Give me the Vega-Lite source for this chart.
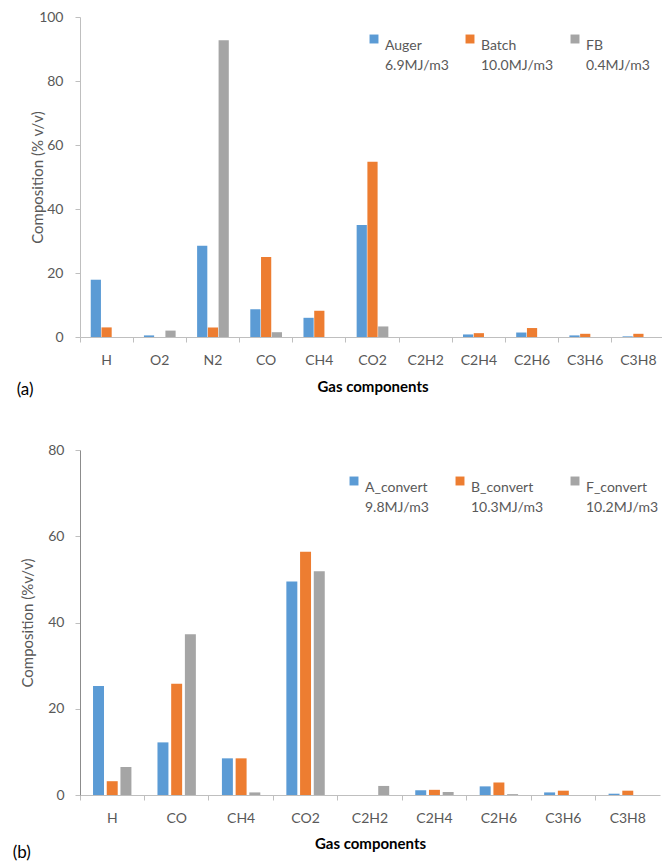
{
  "$schema": "https://vega.github.io/schema/vega-lite/v6.json",
  "background": "white",
  "padding": {"left": 12, "top": 10, "right": 0, "bottom": 0},
  "config": {
    "font": "Lato",
    "view": {"stroke": null},
    "axis": {"labelColor": "#595959", "titleColor": "#595959", "labelFontSize": 14, "titleFontSize": 15, "titleFontWeight": "normal", "domainColor": "#bfbfbf", "tickColor": "#bfbfbf", "grid": false, "labelFont": "Lato", "titleFont": "Lato"},
    "legend": {"labelColor": "#595959", "labelFontSize": 14, "labelFont": "Lato"},
    "style": {"guide-label": {"lineHeight": 20}}
  },
  "resolve": {"scale": {"color": "independent", "xOffset": "independent"}, "legend": {"color": "independent"}},
  "columns": 1,
  "align": "none",
  "spacing": 45,
  "datasets": {
    "a": [
      {"gas": "H", "series": "Auger", "value": 17.9},
      {"gas": "H", "series": "Batch", "value": 3.0},
      {"gas": "H", "series": "FB", "value": 0},
      {"gas": "O2", "series": "Auger", "value": 0.5},
      {"gas": "O2", "series": "Batch", "value": 0},
      {"gas": "O2", "series": "FB", "value": 2.0},
      {"gas": "N2", "series": "Auger", "value": 28.5},
      {"gas": "N2", "series": "Batch", "value": 3.0},
      {"gas": "N2", "series": "FB", "value": 92.7},
      {"gas": "CO", "series": "Auger", "value": 8.7},
      {"gas": "CO", "series": "Batch", "value": 25.0},
      {"gas": "CO", "series": "FB", "value": 1.5},
      {"gas": "CH4", "series": "Auger", "value": 6.0},
      {"gas": "CH4", "series": "Batch", "value": 8.2},
      {"gas": "CH4", "series": "FB", "value": 0},
      {"gas": "CO2", "series": "Auger", "value": 35.0},
      {"gas": "CO2", "series": "Batch", "value": 54.8},
      {"gas": "CO2", "series": "FB", "value": 3.3},
      {"gas": "C2H2", "series": "Auger", "value": 0},
      {"gas": "C2H2", "series": "Batch", "value": 0},
      {"gas": "C2H2", "series": "FB", "value": 0},
      {"gas": "C2H4", "series": "Auger", "value": 0.8},
      {"gas": "C2H4", "series": "Batch", "value": 1.2},
      {"gas": "C2H4", "series": "FB", "value": 0},
      {"gas": "C2H6", "series": "Auger", "value": 1.4},
      {"gas": "C2H6", "series": "Batch", "value": 2.8},
      {"gas": "C2H6", "series": "FB", "value": 0},
      {"gas": "C3H6", "series": "Auger", "value": 0.5},
      {"gas": "C3H6", "series": "Batch", "value": 1.0},
      {"gas": "C3H6", "series": "FB", "value": 0},
      {"gas": "C3H8", "series": "Auger", "value": 0.2},
      {"gas": "C3H8", "series": "Batch", "value": 1.0},
      {"gas": "C3H8", "series": "FB", "value": 0}
    ],
    "b": [
      {"gas": "H", "series": "A_convert", "value": 25.3},
      {"gas": "H", "series": "B_convert", "value": 3.2},
      {"gas": "H", "series": "F_convert", "value": 6.5},
      {"gas": "CO", "series": "A_convert", "value": 12.2},
      {"gas": "CO", "series": "B_convert", "value": 25.8},
      {"gas": "CO", "series": "F_convert", "value": 37.3},
      {"gas": "CH4", "series": "A_convert", "value": 8.5},
      {"gas": "CH4", "series": "B_convert", "value": 8.5},
      {"gas": "CH4", "series": "F_convert", "value": 0.6},
      {"gas": "CO2", "series": "A_convert", "value": 49.5},
      {"gas": "CO2", "series": "B_convert", "value": 56.4},
      {"gas": "CO2", "series": "F_convert", "value": 51.9},
      {"gas": "C2H2", "series": "A_convert", "value": 0},
      {"gas": "C2H2", "series": "B_convert", "value": 0},
      {"gas": "C2H2", "series": "F_convert", "value": 2.1},
      {"gas": "C2H4", "series": "A_convert", "value": 1.1},
      {"gas": "C2H4", "series": "B_convert", "value": 1.2},
      {"gas": "C2H4", "series": "F_convert", "value": 0.7},
      {"gas": "C2H6", "series": "A_convert", "value": 2.0},
      {"gas": "C2H6", "series": "B_convert", "value": 2.9},
      {"gas": "C2H6", "series": "F_convert", "value": 0.2},
      {"gas": "C3H6", "series": "A_convert", "value": 0.6},
      {"gas": "C3H6", "series": "B_convert", "value": 1.0},
      {"gas": "C3H6", "series": "F_convert", "value": 0},
      {"gas": "C3H8", "series": "A_convert", "value": 0.3},
      {"gas": "C3H8", "series": "B_convert", "value": 1.0},
      {"gas": "C3H8", "series": "F_convert", "value": 0}
    ]
  },
  "concat": [
    {
      "width": 585,
      "height": 320,
      "data": {"name": "a"},
      "title": {"text": "(a)", "orient": "bottom", "anchor": "start", "frame": "bounds", "fontSize": 17, "fontWeight": "normal", "font": "Lato", "color": "#000000", "offset": -12, "dx": -14},
      "mark": {"type": "bar"},
      "encoding": {
        "x": {"field": "gas", "type": "nominal", "sort": null, "scale": {"paddingInner": 0, "paddingOuter": 0},
          "axis": {"title": "Gas components", "titleColor": "#000000", "titleFontWeight": "bold", "labelAngle": 0, "bandPosition": 0, "tickSize": 5, "labelPadding": 11, "titlePadding": 12}},
        "xOffset": {"field": "series", "sort": null, "scale": {"paddingInner": 0.05, "paddingOuter": 1.17}},
        "y": {"field": "value", "type": "quantitative", "scale": {"domain": [0, 100]},
          "axis": {"title": "Composition (% v/v)", "values": [0, 20, 40, 60, 80, 100], "tickSize": 5, "labelPadding": 12, "titlePadding": -7}},
        "color": {"field": "series", "type": "nominal", "sort": null,
          "scale": {"domain": ["Auger", "Batch", "FB"], "range": ["#5B9BD5", "#ED7D31", "#A5A5A5"]},
          "legend": {"title": null, "orient": "none", "legendX": 287, "legendY": 15, "direction": "horizontal", "columns": 3, "columnPadding": 14, "symbolType": "square", "symbolSize": 80, "symbolStrokeWidth": 0, "labelBaseline": "top",
            "labelExpr": "datum.label == 'Auger' ? ['Auger', '6.9MJ/m3'] : datum.label == 'Batch' ? ['Batch', '10.0MJ/m3'] : ['FB', '0.4MJ/m3']"}}
      }
    },
    {
      "width": 580,
      "height": 345,
      "data": {"name": "b"},
      "title": {"text": "(b)", "orient": "bottom", "anchor": "start", "frame": "bounds", "fontSize": 17, "fontWeight": "normal", "font": "Lato", "color": "#000000", "offset": -6, "dx": -8},
      "mark": {"type": "bar"},
      "encoding": {
        "x": {"field": "gas", "type": "nominal", "sort": null, "scale": {"paddingInner": 0, "paddingOuter": 0},
          "axis": {"title": "Gas components", "titleColor": "#000000", "titleFontWeight": "bold", "labelAngle": 0, "bandPosition": 0, "tickSize": 5, "labelPadding": 11, "titlePadding": 11}},
        "xOffset": {"field": "series", "sort": null, "scale": {"paddingInner": 0.2, "paddingOuter": 0.95}},
        "y": {"field": "value", "type": "quantitative", "scale": {"domain": [0, 80]},
          "axis": {"title": "Composition  (%v/v)", "values": [0, 20, 40, 60, 80], "tickSize": 5, "labelPadding": 11, "titlePadding": 12, "domainColor": "#8c8c8c"}},
        "color": {"field": "series", "type": "nominal", "sort": null,
          "scale": {"domain": ["A_convert", "B_convert", "F_convert"], "range": ["#5B9BD5", "#ED7D31", "#A5A5A5"]},
          "legend": {"title": null, "orient": "none", "legendX": 267, "legendY": 24, "direction": "horizontal", "columns": 3, "columnPadding": 24, "symbolType": "square", "symbolSize": 80, "symbolStrokeWidth": 0, "labelBaseline": "top",
            "labelExpr": "datum.label == 'A_convert' ? ['A_convert', '9.8MJ/m3'] : datum.label == 'B_convert' ? ['B_convert', '10.3MJ/m3'] : ['F_convert', '10.2MJ/m3']"}}
      }
    }
  ]
}
